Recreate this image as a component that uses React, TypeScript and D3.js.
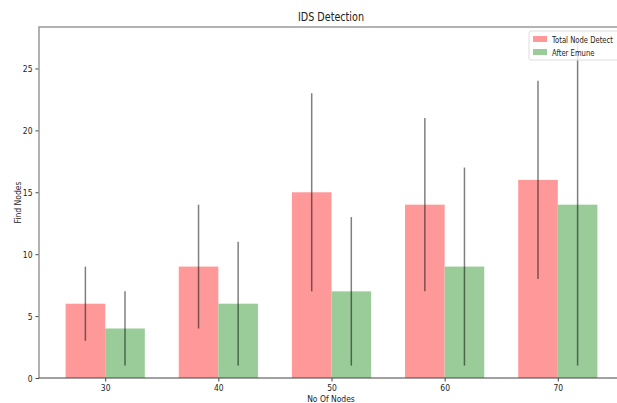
import React, { useEffect, useRef } from "react";
import * as d3 from "d3";

const categories = ["30", "40", "50", "60", "70"];
const totalDetect = [6, 9, 15, 14, 16];
const totalErr = [3, 5, 8, 7, 8];
const afterEmune = [4, 6, 7, 9, 14];
const afterErr = [3, 5, 6, 8, 13];
const yTicks = [0, 5, 10, 15, 20, 25];

const width = 617;
const height = 403;
const barWidth = 0.35;

function App() {
  const ref = useRef<SVGSVGElement>(null);

  useEffect(() => {
    drawChart();
  }, []);

  function drawChart() {
    const svg = d3.select(ref.current);
    svg.selectAll("*").remove();

    const left = 39,
      right = 624,
      top = 27,
      bottom = 378;

    // matplotlib-ish margins around bars
    const xScale = d3
      .scaleLinear()
      .domain([-barWidth - 0.235, categories.length - 1 + barWidth + 0.235])
      .range([left, right]);
    const yMax = d3.max(afterEmune.map((v, i) => v + afterErr[i])) as number;
    const yScale = d3
      .scaleLinear()
      .domain([0, yMax * 1.05])
      .range([bottom, top]);

    const font = "'DejaVu Sans', sans-serif";
    const g = svg.append("g");

    const series = [
      { name: "Total Node Detect", values: totalDetect, err: totalErr, color: "#ff9999", off: -barWidth },
      { name: "After Emune", values: afterEmune, err: afterErr, color: "#99cc99", off: 0 },
    ];

    series.forEach((s) => {
      g.selectAll(null)
        .data(s.values)
        .enter()
        .append("rect")
        .attr("x", (d, i) => xScale(i + s.off))
        .attr("width", xScale(barWidth) - xScale(0))
        .attr("y", (d) => yScale(d))
        .attr("height", (d) => yScale(0) - yScale(d))
        .attr("fill", s.color);
    });

    series.forEach((s) => {
      g.selectAll(null)
        .data(s.values)
        .enter()
        .append("line")
        .attr("x1", (d, i) => xScale(i + s.off + barWidth / 2))
        .attr("x2", (d, i) => xScale(i + s.off + barWidth / 2))
        .attr("y1", (d, i) => yScale(d - s.err[i]))
        .attr("y2", (d, i) => yScale(d + s.err[i]))
        .attr("stroke", "#000")
        .attr("stroke-opacity", 0.5)
        .attr("stroke-width", 1.5);
    });

    const xAxis = g
      .append("g")
      .attr("transform", `translate(0,${bottom})`)
      .call(
        d3
          .axisBottom(xScale)
          .tickValues(categories.map((c, i) => i))
          .tickFormat((d, i) => categories[i])
          .tickSize(3.5)
          .tickSizeOuter(0)
      );
    const yAxis = g
      .append("g")
      .attr("transform", `translate(${left},0)`)
      .call(d3.axisLeft(yScale).tickValues(yTicks).tickSize(3.5).tickSizeOuter(0));

    [xAxis, yAxis].forEach((a) => {
      a.select(".domain").remove();
      a.selectAll("line").attr("stroke", "#444");
      a.selectAll("text").attr("font-family", font).attr("font-size", 9.5).attr("fill", "#222");
    });

    // spines
    g.append("path")
      .attr("d", `M${left},${bottom}V${top}H${right}`)
      .attr("fill", "none")
      .attr("stroke", "#999")
      .attr("stroke-width", 1.5);
    g.append("line")
      .attr("x1", left)
      .attr("x2", right)
      .attr("y1", bottom)
      .attr("y2", bottom)
      .attr("stroke", "#444")
      .attr("stroke-width", 1.2);

    g.append("text")
      .attr("x", 331)
      .attr("y", 21)
      .attr("text-anchor", "middle")
      .attr("font-family", font)
      .attr("font-size", 12)
      .attr("fill", "#222")
      .text("IDS Detection");

    g.append("text")
      .attr("x", 331)
      .attr("y", 402)
      .attr("text-anchor", "middle")
      .attr("font-family", font)
      .attr("font-size", 9.5)
      .attr("fill", "#222")
      .text("No Of Nodes");

    g.append("text")
      .attr("transform", `translate(21,${(top + bottom) / 2}) rotate(-90)`)
      .attr("text-anchor", "middle")
      .attr("font-family", font)
      .attr("font-size", 9.5)
      .attr("fill", "#222")
      .text("Find Nodes");

    // legend
    const lg = g.append("g").attr("transform", "translate(529,31)");
    lg.append("rect")
      .attr("width", 110)
      .attr("height", 29)
      .attr("rx", 2)
      .attr("fill", "#fff")
      .attr("fill-opacity", 0.8)
      .attr("stroke", "#ddd");
    series.forEach((s, i) => {
      lg.append("rect")
        .attr("x", 4)
        .attr("y", 5 + i * 13)
        .attr("width", 14)
        .attr("height", 6)
        .attr("fill", s.color);
      lg.append("text")
        .attr("class", "legend-label")
        .attr("x", 23)
        .attr("y", 11.5 + i * 13)
        .attr("font-family", font)
        .attr("font-size", 9)
        .attr("fill", "#222")
        .text(s.name);
    });

    // the reference text looks horizontally squeezed; narrow every label a bit
    svg.selectAll<SVGTextElement, unknown>("text").each(function () {
      const w = this.getComputedTextLength();
      const k = this.classList.contains("legend-label") ? 0.76 : 0.8;
      if (w > 0) {
        d3.select(this)
          .attr("textLength", w * k)
          .attr("lengthAdjust", "spacingAndGlyphs");
      }
    });
  }

  return (
    <svg
      ref={ref}
      width={width}
      height={height}
      style={{ position: "absolute", left: 0, top: 0, background: "#fff" }}
    />
  );
}

export default App;
